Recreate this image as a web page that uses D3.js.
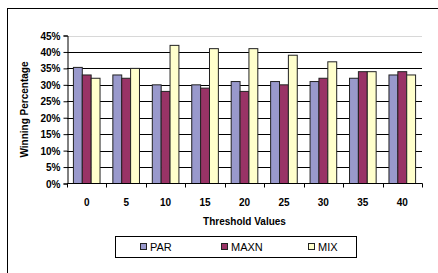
<!DOCTYPE html>
<html lang="en">
<head>
<meta charset="UTF-8">
<script src="https://d3js.org/d3.v7.min.js"></script>
<style>
body { margin: 0; background: #fff; }
svg { display: block; font-family: Arial, "Liberation Sans", sans-serif; }
.tick-lbl { font-size: 10px; font-weight: bold; fill: #000; }
.ax-title { font-size: 10px; font-weight: bold; fill: #000; }
.leg { font-size: 11px; fill: #000; }
</style>
</head>
<body>
<div id="chart"></div>
<script>
// chart data
const thresholds = ["0", "5", "10", "15", "20", "25", "30", "35", "40"];
const seriesNames = ["PAR", "MAXN", "MIX"];
const parValues  = [35.3, 33, 30, 30, 31, 31, 31, 32, 33];
const maxnValues = [33, 32, 28, 29, 28, 30, 32, 34, 34];
const mixValues  = [32, 35, 42, 41, 41, 39, 37, 34, 33];
const yTicks = [0, 5, 10, 15, 20, 25, 30, 35, 40, 45];

const colours = { PAR: "#9999cc", MAXN: "#993366", MIX: "#ffffcc" };

const width = 438, height = 273;
const plot = { left: 67, right: 422, top: 35.5, bottom: 183.5 };

const svg = d3.select("#chart").append("svg")
  .attr("width", width)
  .attr("height", height);

// outer chart frame
svg.append("rect")
  .attr("x", 7.5).attr("y", 8.5)
  .attr("width", 440).attr("height", 270)
  .attr("fill", "none")
  .attr("stroke", "#000");

const x = d3.scaleBand()
  .domain(thresholds)
  .range([plot.left, plot.right])
  .paddingInner(0.325)
  .paddingOuter(0.1625);

const xs = d3.scaleBand()
  .domain(seriesNames)
  .range([0, x.bandwidth()]);

const y = d3.scaleLinear()
  .domain([0, 45])
  .range([plot.bottom, plot.top]);

// gridlines
svg.append("g")
  .selectAll("line")
  .data(yTicks.filter(t => t > 0))
  .join("line")
  .attr("x1", plot.left).attr("x2", plot.right)
  .attr("y1", d => Math.round(y(d)) + 0.5)
  .attr("y2", d => Math.round(y(d)) + 0.5)
  .attr("stroke", d => d === 45 ? "#d8d8d8" : "#000")
  .attr("stroke-width", 1);

// bars
const table = thresholds.map((t, i) => ({
  t: t,
  values: [
    { s: "PAR", v: parValues[i] },
    { s: "MAXN", v: maxnValues[i] },
    { s: "MIX", v: mixValues[i] }
  ]
}));

svg.append("g")
  .selectAll("g")
  .data(table)
  .join("g")
  .attr("transform", d => `translate(${x(d.t)},0)`)
  .selectAll("rect")
  .data(d => d.values)
  .join("rect")
  .attr("x", d => xs(d.s))
  .attr("y", d => y(d.v))
  .attr("width", xs.bandwidth())
  .attr("height", d => y(0) - y(d.v))
  .attr("fill", d => colours[d.s])
  .attr("stroke", "#222")
  .attr("stroke-width", 1);

// y axis
const yAxis = svg.append("g")
  .attr("transform", `translate(${plot.left + 0.5},0)`)
  .call(d3.axisLeft(y).tickValues(yTicks).tickSize(4).tickFormat(d => d + "%"));
yAxis.select(".domain").attr("stroke", "#000");
yAxis.selectAll("text").attr("class", "tick-lbl").attr("x", -7).attr("dy", "0.35em");

// x axis: ticks on band boundaries
const xAxisG = svg.append("g")
  .attr("transform", `translate(0,${plot.bottom})`);
xAxisG.append("line")
  .attr("x1", plot.left).attr("x2", plot.right + 0.5)
  .attr("y1", 0).attr("y2", 0)
  .attr("stroke", "#000");
const bounds = thresholds.map(t => x(t) - x.step() * x.paddingInner() / 2);
bounds[0] = plot.left;
bounds.push(plot.right);
xAxisG.selectAll(".xt")
  .data(bounds)
  .join("line")
  .attr("class", "xt")
  .attr("x1", d => Math.round(d) + 0.5).attr("x2", d => Math.round(d) + 0.5)
  .attr("y1", 0).attr("y2", 4)
  .attr("stroke", "#000");
xAxisG.selectAll(".xl")
  .data(thresholds)
  .join("text")
  .attr("class", "tick-lbl")
  .attr("x", d => x(d) + x.bandwidth() / 2)
  .attr("y", 22.5)
  .attr("text-anchor", "middle")
  .text(d => d);

// axis titles
svg.append("text")
  .attr("class", "ax-title")
  .attr("x", (plot.left + plot.right) / 2)
  .attr("y", 225)
  .attr("text-anchor", "middle")
  .text("Threshold Values");

svg.append("text")
  .attr("class", "ax-title")
  .attr("transform", `translate(28,${(plot.top + plot.bottom) / 2}) rotate(-90)`)
  .attr("text-anchor", "middle")
  .text("Winning Percentage");

// legend
const legend = svg.append("g");
legend.append("rect")
  .attr("x", 115.5).attr("y", 236.5)
  .attr("width", 241).attr("height", 21)
  .attr("fill", "#fff")
  .attr("stroke", "#000");
const legX = [140, 221, 308];
const items = legend.selectAll(".li")
  .data(seriesNames)
  .join("g")
  .attr("class", "li")
  .attr("transform", (d, i) => `translate(${legX[i]},243)`);
items.append("rect")
  .attr("x", 0.5).attr("y", 0.5)
  .attr("width", 6).attr("height", 6)
  .attr("fill", d => colours[d])
  .attr("stroke", "#222");
items.append("text")
  .attr("class", "leg")
  .attr("x", 10).attr("y", 8)
  .text(d => d);
</script>
</body>
</html>
